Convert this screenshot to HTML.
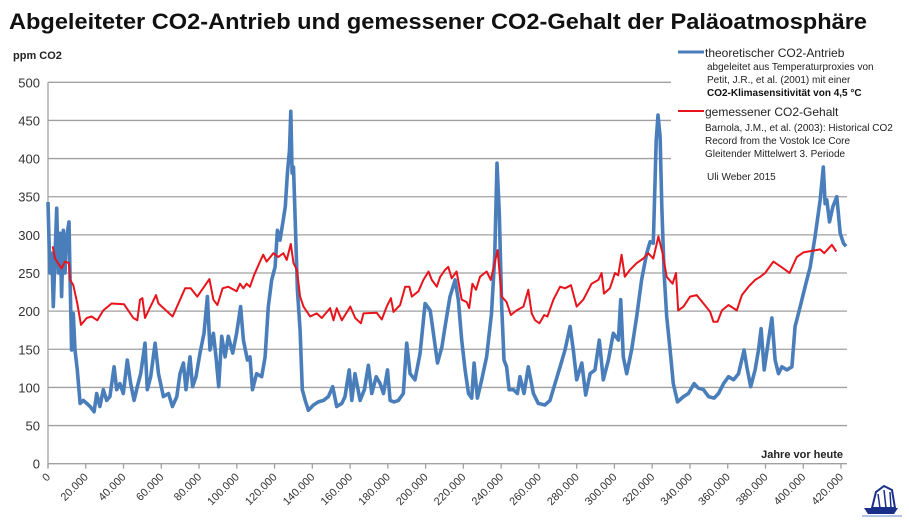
<!DOCTYPE html>
<html><head><meta charset="utf-8">
<style>
html,body{margin:0;padding:0;background:#fff;}
svg text{font-family:"Liberation Sans",sans-serif;}
</style></head>
<body>
<svg id="chart" width="909" height="524" viewBox="0 0 909 524" xmlns="http://www.w3.org/2000/svg">
<text x="9" y="29" font-size="22" font-weight="bold" fill="#111" textLength="858" lengthAdjust="spacingAndGlyphs">Abgeleiteter CO2-Antrieb und gemessener CO2-Gehalt der Paläoatmosphäre</text>
<text x="13" y="59" font-size="11" font-weight="bold" fill="#222">ppm CO2</text>
<g id="grid"></g>
<g id="axes"></g>
<g id="series"></g>
<text x="843" y="458" font-size="11" font-weight="bold" fill="#222" text-anchor="end">Jahre vor heute</text>
<g>
 <line x1="678" y1="52" x2="704" y2="52" stroke="#4a7ebb" stroke-width="3"/>
 <text x="705" y="57" font-size="12" fill="#222">theoretischer CO2-Antrieb</text>
 <text x="707" y="70" font-size="10" fill="#222">abgeleitet aus Temperaturproxies von</text>
 <text x="707" y="83" font-size="10" fill="#222">Petit, J.R., et al. (2001) mit einer</text>
 <text x="707" y="96" font-size="10" font-weight="bold" fill="#111">CO2-Klimasensitivität von 4,5 °C</text>
 <line x1="678" y1="111" x2="704" y2="111" stroke="#e8141c" stroke-width="2"/>
 <text x="705" y="116" font-size="12" fill="#222">gemessener CO2-Gehalt</text>
 <text x="705" y="131" font-size="10" fill="#222">Barnola, J.M., et al. (2003): Historical CO2</text>
 <text x="705" y="144" font-size="10" fill="#222">Record from the Vostok Ice Core</text>
 <text x="705" y="157" font-size="10" fill="#222">Gleitender Mittelwert 3. Periode</text>
 <text x="707" y="180" font-size="10" fill="#222">Uli Weber 2015</text>
</g>
<g transform="translate(862,482)">
 <path d="M2 26 L36 26 L32 32 L6 32 Z" fill="#1a2f8a"/>
 <path d="M10 26 L14 10 L22 4 L30 8 L33 26 Z" fill="none" stroke="#1a2f8a" stroke-width="2"/>
 <path d="M16 12 L18 26 M22 8 L24 26 M28 10 L29 26" stroke="#1a2f8a" stroke-width="1.5"/>
 <path d="M0 34 L40 34" stroke="#6a8ad0" stroke-width="1"/>
</g>
</svg>
<script>
const yTicks=[0,50,100,150,200,250,300,350,400,450,500];
const xTicks=[0,20000,40000,60000,80000,100000,120000,140000,160000,180000,200000,220000,240000,260000,280000,300000,320000,340000,360000,380000,400000,420000];
const xTickLabels=["0","20.000","40.000","60.000","80.000","100.000","120.000","140.000","160.000","180.000","200.000","220.000","240.000","260.000","280.000","300.000","320.000","340.000","360.000","380.000","400.000","420.000"];
const blueYears=[0,1000,2000,2800,3700,4600,5500,6400,7200,8100,9000,9900,11100,11700,12500,13400,14300,15500,17000,18700,20500,22300,24400,25800,27500,29300,31100,32800,35000,36400,38100,39900,42000,43800,45600,47300,49100,51400,52600,54400,56700,58500,61100,63800,65900,68200,69900,71700,73100,75200,76600,78400,80500,82600,84400,85800,87600,89000,90400,92000,93800,95500,97800,99900,102000,103500,105600,107000,108300,110500,113200,115000,116700,118500,120300,121500,122900,124300,125700,126800,127900,128600,129300,130000,131000,132100,133500,134700,136200,137900,140600,143200,145900,148500,150800,152900,155600,157300,159500,160900,162600,165300,167600,169700,171500,173800,175900,177700,179800,181200,183300,185600,188200,190000,191800,194400,197100,199700,202400,204100,206300,208600,210300,212900,215600,217300,219100,220900,222700,224400,225700,227400,229700,232300,234900,236600,237800,239000,240300,241500,242900,244200,246500,248600,250000,252100,254400,257100,259700,263200,265900,268500,271200,273800,276500,278200,280000,282700,284800,287100,289700,292000,294100,296800,299400,302100,303300,304700,306500,309100,311800,314400,317100,318900,320600,322100,323100,324200,325100,326300,327700,329500,331200,333400,336600,339200,342200,344500,347200,349800,352800,355100,357800,360400,363100,365700,368700,370100,372200,374500,376300,377700,379300,381600,383400,385100,386900,388700,391300,394000,395700,398400,401000,403700,406300,409000,410600,411600,412500,413900,415700,417800,419600,421300,422700];
const blueValues=[343,250,276,206,271,335,250,302,219,306,250,298,317,241,149,197,149,123,79,83,79,75,68,92,75,97,83,88,127,97,105,92,136,105,83,101,118,158,97,114,158,118,88,92,75,88,118,132,97,140,101,114,145,171,219,149,171,140,101,167,140,167,145,171,206,162,136,140,97,118,114,140,206,241,258,306,293,315,337,381,411,462,381,389,315,228,175,97,83,70,77,81,83,88,101,75,79,88,123,83,118,83,97,129,92,114,105,92,123,83,81,83,92,158,118,110,145,210,201,171,132,153,180,219,241,215,162,123,92,86,132,86,110,140,197,271,394,328,206,136,127,97,97,92,114,92,127,92,79,77,83,105,127,149,180,149,110,132,90,118,123,162,110,136,171,162,215,140,118,149,193,241,276,291,289,424,457,429,337,250,193,149,105,81,88,92,105,99,97,88,86,92,105,114,110,118,149,127,101,123,149,177,123,162,191,136,118,127,123,127,180,206,232,258,298,346,389,341,346,317,337,350,302,289,285];
const redYears=[2500,3700,7200,9000,11100,11700,13400,15500,17500,20500,23100,26100,29300,33700,40300,45200,47300,48700,50000,51400,57200,58500,66000,72600,75600,79100,85500,87600,89700,92500,95500,99900,101700,103500,105200,107000,109100,112300,114000,115800,119400,122000,124700,126400,128600,130000,131800,133500,135300,138800,142300,145000,149400,151200,152900,155600,160100,162700,165700,167100,174100,176800,179400,181600,183000,186500,189200,191400,192700,196200,198800,201500,203300,205900,207700,210300,212000,213800,216400,219100,221700,223100,224800,226700,228800,232300,234500,238100,240300,242900,245100,248200,251800,254400,256200,258000,260300,262800,264500,267700,271200,273800,277000,280000,283500,287900,291500,293200,294500,297600,300300,302000,303800,305500,308200,311800,315300,317900,320600,323300,325500,327700,330800,332600,333800,336600,340100,343600,347200,350700,352400,354600,356900,360400,364800,367500,371000,374500,377200,379800,384200,389500,392700,396600,400100,409000,411100,415200,417500];
const redValues=[285,269,256,265,263,241,234,210,182,191,193,188,201,210,209,191,188,215,217,191,221,210,193,230,230,219,242,215,208,230,232,226,236,230,236,232,247,265,274,265,276,271,276,267,288,263,254,219,206,193,197,191,204,188,204,188,206,191,184,197,198,189,206,217,199,208,232,232,219,226,241,252,241,232,245,254,258,243,252,215,212,204,236,228,245,252,241,280,219,212,195,201,206,228,197,188,184,195,193,215,232,230,234,206,215,236,241,250,223,230,250,247,274,245,254,263,269,276,269,298,276,245,236,250,201,206,219,221,210,199,186,186,201,208,201,221,232,241,245,250,265,256,250,271,277,281,276,287,278];

const X0=48, XW=793/420000, Y0=463.7, YS=381.4/500;
function xScale(v){return X0+v*XW;}
function yScale(v){return Y0-v*YS;}
const NS="http://www.w3.org/2000/svg";
function mk(tag,attrs,parent){const e=document.createElementNS(NS,tag);for(const k in attrs)e.setAttribute(k,attrs[k]);parent.appendChild(e);return e;}
const grid=document.getElementById('grid'), axes=document.getElementById('axes'), series=document.getElementById('series');
yTicks.forEach(function(t){
  const y=yScale(t);
  if(t>0){
    const l=mk('line',{x1:X0,x2:(t>=400?671:847),y1:y,y2:y,stroke:'#a0a0a0','stroke-width':1.3},grid);
    
    
  }
  const tx=mk('text',{x:40,y:y+5,'font-size':13,'text-anchor':'end',fill:'#333'},axes);
  tx.textContent=String(t);
  
  
});
const xa=mk('line',{x1:X0,x2:847,y1:Y0,y2:Y0,stroke:'#a0a0a0','stroke-width':1.3},axes);


const ya=mk('line',{x1:X0,x2:X0,y1:yScale(500),y2:Y0+4,stroke:'#a0a0a0','stroke-width':1.3},axes);


xTicks.forEach(function(t,i){
  const x=xScale(t);
  const tk=mk('line',{x1:x,x2:x,y1:Y0,y2:Y0+5,stroke:'#a0a0a0','stroke-width':1.3},axes);
  
  
  const tx=mk('text',{x:x+3,y:Y0+14,'font-size':11,'text-anchor':'end',fill:'#333',transform:'rotate(-45 '+(x+3)+' '+(Y0+14)+')'},axes);
  tx.textContent=xTickLabels[i];
  
  
});
function pathFor(xs,vs){return xs.map(function(v,i){return (i?'L':'M')+xScale(v).toFixed(1)+' '+yScale(vs[i]).toFixed(1);}).join(' ');}
const bl=mk('path',{d:pathFor(blueYears,blueValues),fill:'none',stroke:'#4a7ebb','stroke-width':3.6,'stroke-linejoin':'round'},series);


const rl=mk('path',{d:pathFor(redYears,redValues),fill:'none',stroke:'#e8141c','stroke-width':2,'stroke-linejoin':'round'},series);


</script>
</body></html>
